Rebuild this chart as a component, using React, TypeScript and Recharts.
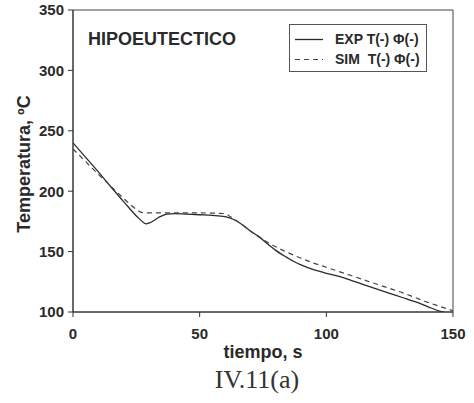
import React from 'react';
import { LineChart, Line, XAxis, YAxis, ReferenceArea, Legend } from 'recharts';

const expTime = [0, 5, 10, 15, 18.5, 22, 26, 29, 31, 34, 37, 40, 45, 50, 55, 60, 63, 67, 70, 73, 77, 80, 83, 87, 90, 95, 100, 105, 110, 115, 120, 125, 130, 135, 140, 145, 147];
const expTemp = [240, 228, 216, 203.5, 195, 186.5, 177.5, 173, 174.5, 178.5, 181, 181.5, 181, 180.5, 180, 179, 177, 172, 167, 163, 156, 151, 147, 142, 139, 135, 132, 129.5, 126, 122.5, 119, 115.5, 112, 108.5, 104.5, 100.5, 99.5];

const simTime = [0, 5, 10, 15, 20, 25, 27, 30, 40, 50, 60, 62, 65, 70, 75, 80, 85, 90, 95, 100, 105, 110, 115, 120, 125, 130, 135, 140, 145, 150];
const simTemp = [235, 224.5, 214, 204, 194, 185, 182.5, 182, 182, 182, 181.5, 179, 175, 167, 160, 154, 149, 144.5, 140.5, 137, 133.5, 130, 126.5, 123, 119.5, 116, 112, 108, 104.5, 101];

const xTicks = [0, 50, 100, 150];
const yTicks = [100, 150, 200, 250, 300, 350];

const expData = expTime.map((t, i) => ({ t, T: expTemp[i] }));
const simData = simTime.map((t, i) => ({ t, T: simTemp[i] }));

const FONT = '"Liberation Sans", Arial, sans-serif';
const INK = '#2a2a2a';

const LegendBox = () => (
  <div
    style={{
      width: 136,
      height: 46,
      border: '1px solid #555',
      fontFamily: FONT,
      fontWeight: 'bold',
      fontSize: 14,
      color: INK,
      position: 'relative',
      background: '#fff',
    }}
  >
    <svg width={40} height={46} style={{ position: 'absolute', left: 0, top: 0 }}>
      <line x1={5} y1={14.5} x2={33} y2={14.5} stroke={INK} strokeWidth={1.3} />
      <line x1={5} y1={34.5} x2={33} y2={34.5} stroke="#444" strokeWidth={1.2} strokeDasharray="5 4" />
    </svg>
    <div style={{ position: 'absolute', left: 45, top: 6, whiteSpace: 'nowrap', lineHeight: '16px' }}>EXP T(-) Φ(-)</div>
    <div style={{ position: 'absolute', left: 45, top: 26, whiteSpace: 'nowrap', lineHeight: '16px' }}>SIM&nbsp; T(-) Φ(-)</div>
  </div>
);

export default function App() {
  return (
    <div style={{ position: 'absolute', left: 0, top: 0, width: 474, height: 403, background: '#fff' }}>
      <LineChart width={474} height={403} margin={{ top: 10, right: 21, bottom: 41, left: 0 }}>
        <XAxis
          type="number"
          dataKey="t"
          domain={[0, 150]}
          ticks={xTicks}
          allowDataOverflow
          stroke="#333"
          tickSize={5}
          tickMargin={11}
          height={50}
          tick={{ fill: INK, fontFamily: FONT, fontWeight: 'bold', fontSize: 15 }}
          label={{
            content: (props: any) => {
              const vb = props.viewBox || {};
              return (
                <text
                  x={vb.x + vb.width / 2}
                  y={vb.y + 46}
                  textAnchor="middle"
                  fill={INK}
                  fontFamily={FONT}
                  fontWeight="bold"
                  fontSize={18}
                >
                  tiempo, s
                </text>
              );
            },
          }}
        />
        <YAxis
          type="number"
          domain={[100, 350]}
          ticks={yTicks}
          allowDataOverflow
          stroke="#333"
          width={73}
          tickSize={5}
          tickMargin={4}
          tick={{ fill: INK, fontFamily: FONT, fontWeight: 'bold', fontSize: 15 }}
          label={{
            content: () => (
              <text
                x={30}
                y={164}
                transform="rotate(-90, 30, 164)"
                textAnchor="middle"
                fill={INK}
                fontFamily={FONT}
                fontWeight="bold"
                fontSize={18}
              >
                Temperatura, ºC
              </text>
            ),
          }}
        />
        <ReferenceArea x1={0} x2={150} y1={100} y2={350} fill="none" stroke="#444" strokeWidth={1} ifOverflow="visible" />
        <Line
          data={expData}
          dataKey="T"
          name="EXP"
          type="monotone"
          stroke={INK}
          strokeWidth={1.3}
          dot={false}
          isAnimationActive={false}
        />
        <Line
          data={simData}
          dataKey="T"
          name="SIM"
          type="monotone"
          stroke="#444"
          strokeWidth={1.2}
          strokeDasharray="5 4"
          dot={false}
          isAnimationActive={false}
        />
        <Legend
          layout="horizontal"
          verticalAlign="middle"
          align="center"
          content={() => <LegendBox />}
          wrapperStyle={{ top: 24, left: 289, width: 138, height: 48 }}
        />
      </LineChart>
      <div
        style={{
          position: 'absolute',
          left: 88,
          top: 29,
          fontFamily: FONT,
          fontWeight: 'bold',
          fontSize: 18,
          color: INK,
          whiteSpace: 'nowrap',
          lineHeight: '20px',
        }}
      >
        HIPOEUTECTICO
      </div>
      <div
        style={{
          position: 'absolute',
          left: 0,
          width: 514,
          top: 365,
          textAlign: 'center',
          fontFamily: '"Liberation Serif", "Times New Roman", serif',
          fontSize: 26,
          color: '#333',
          lineHeight: '30px',
        }}
      >
        IV.11(a)
      </div>
    </div>
  );
}
